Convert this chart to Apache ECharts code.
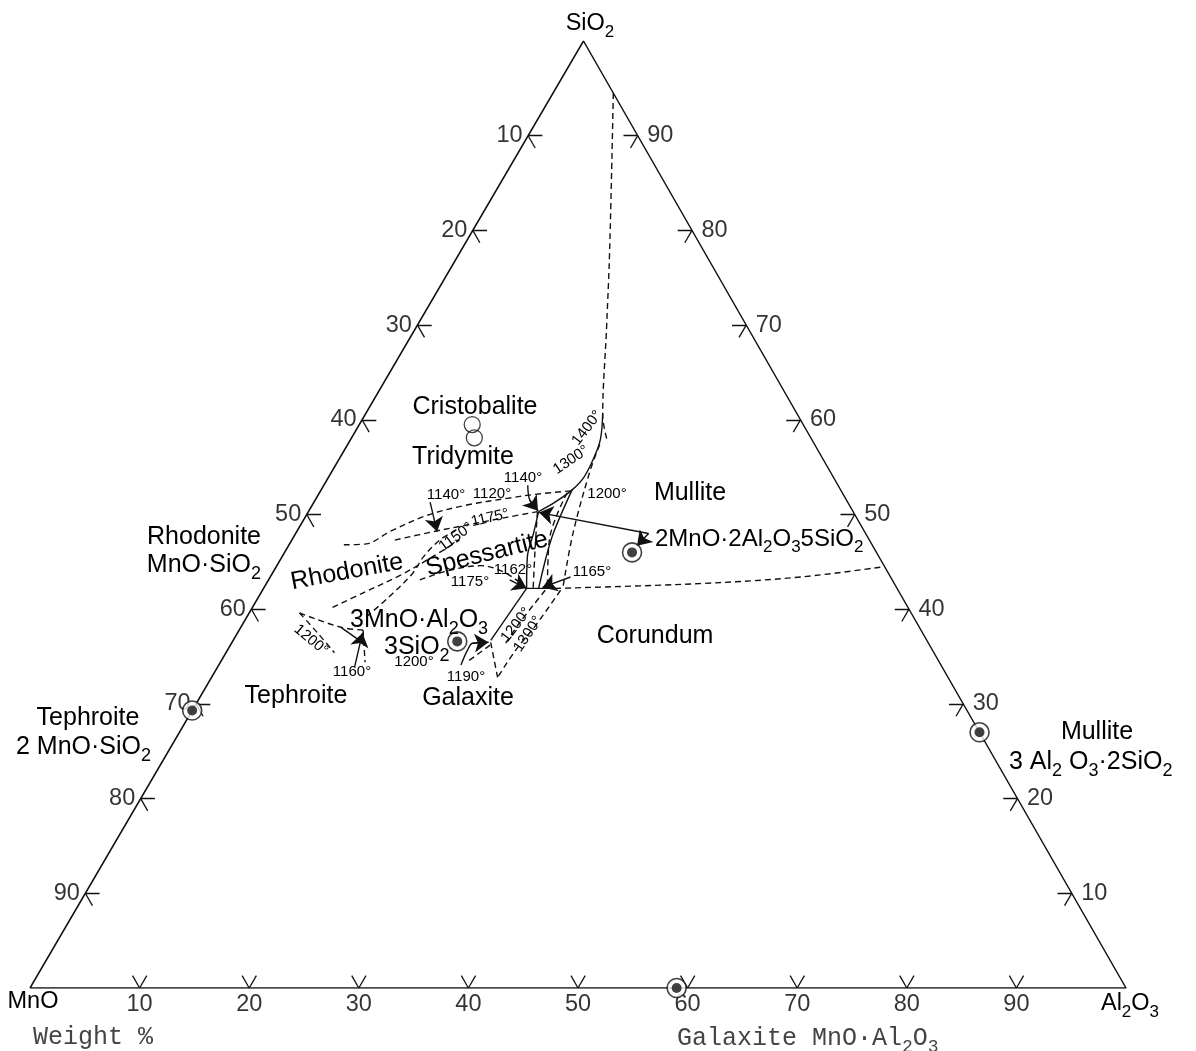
<!DOCTYPE html>
<html><head><meta charset="utf-8">
<script src="https://cdn.jsdelivr.net/npm/echarts@6/dist/echarts.min.js"></script>
<style>html,body{margin:0;padding:0;background:#fff}#c{width:1196px;height:1051px}</style>
</head><body><div id="c"></div>
<script>
// All compositions in weight %, written as [SiO2, Al2O3]; MnO = 100 - SiO2 - Al2O3
const outline = [[0,0],[100,0],[0,100],[0,0]];
const tickValues = [10,20,30,40,50,60,70,80,90];
const tickLabels = ['10','20','30','40','50','60','70','80','90'];

// compounds (bull's-eye markers)
const compounds = [[29.3,0],[0,59],[27,73],[36.6,20.5],[46.0,31.7]];
// cristobalite / tridymite open circles
const silicaCircles = [[59.5,10.3],[58.1,11.2]];

// solid boundary curves
const silicaLiquidus = [[60.7,21.6],[57.9,22.8],[55.8,23.2],[53.9,23.3],[52.6,22.9],[51.3,22.0],[50.3,21.0]];
const spessLeftSolid = [[50.3,21.0],[48.0,21.7],[45.5,22.4],[42.2,24.0]];
const spessRightSolid = [[52.6,22.9],[48.0,23.5],[45.2,24.2],[42.2,25.1]];
const eutecticTie = [[42.2,24.0],[42.2,26.6]];
const galaxiteSolid = [[42.2,24.0],[36.7,23.5]];
const tephroiteSolid = [[38.1,9.1],[36.9,11.2]];

// dashed boundary / isotherm curves
const silicaMullite = [[94.5,5.5],[78,13.5],[69.5,17.5],[60.5,21.7],[57.9,23.4]];
const corundumBoundary = [[42.2,26.6],[42.7,39.5],[43.4,48.4],[44.5,55.5]];
const iso1120 = [[46.8,5.0],[46.9,7.0],[48.2,8.5],[49.9,11.0],[51.0,14.1],[51.7,17.4],[52.1,19.6],[52.5,22.8]];
const iso1150 = [[47.3,9.4],[48.2,12.5],[48.9,15.2],[49.7,18.4],[50.3,20.9]];
const rhodSpessA = [[40.2,7.3],[41.7,9.3],[43.6,11.8],[45.4,13.6],[47.3,15.3]];
const rhodSpessB = [[39.2,10.9],[41.3,11.9],[43.8,12.8],[45.5,12.9],[47.3,13.5],[48.6,14.7]];
const iso1175 = [[43.1,13.8],[44.1,16.0],[44.6,18.6],[43.9,21.1],[42.6,23.4]];
const spessDashA = [[50.3,20.9],[46.3,22.7],[42.2,24.6]];
const spessDashB = [[52.3,22.6],[47.3,23.5],[42.2,25.9]];
const iso1200 = [[57.4,23.0],[54.7,23.5],[48.0,25.3],[42.2,27.3]];
const galaxIsoA = [[42.0,25.8],[38.6,25.2],[36.2,25.0]];
const galaxIsoB = [[42.0,27.2],[38.3,26.8],[35.7,26.3],[32.8,26.1]];
const galaxDashC = [[36.5,23.6],[32.8,26.1]];
const galaxDashD = [[34.6,22.6],[36.2,23.7]];
const tephDashA = [[39.6,4.6],[38.1,9.1],[37.8,11.3]];
const tephDashB = [[39.6,4.6],[37.5,7.3],[35.4,9.9]];
const tephDashC = [[37.8,11.3],[34.4,13.2]];

// arrows (last point = head)
const arrowMullite = [[48.0,32.2],[50.2,21.1]];
const arrowMullite2 = [[48.0,32.2],[46.7,31.8]];
const arrow1140a = [[53.1,18.6],[51.5,19.6],[50.4,20.9]];
const arrow1140b = [[51.3,10.6],[48.2,12.8]];
const arrow1162 = [[43.1,22.0],[42.2,24.0]];
const arrow1165 = [[43.4,27.4],[42.3,25.4]];
const arrow1160 = [[33.9,12.5],[37.5,11.4]];
const arrowSpess = [[34.1,22.1],[35.7,21.9],[36.4,22.0],[36.5,23.4]];

const APEX = 0.505;
const INK = '#111';
const TXT = '#000';
const FONT = '"Liberation Sans", Arial, Helvetica, sans-serif';
const MONO = '"Liberation Mono", "Courier New", monospace';
function P(c){ return [c[1] + APEX*c[0], c[0]]; }

function curve(pts, dashed, smooth){
  return {type:'line', data: pts.map(P), symbol:'none', smooth: smooth ? 0.35 : false, silent:true,
    lineStyle:{color:INK, width:1.4, type: dashed ? [6,4] : 'solid'}, z:3};
}
function arrow(pts, smooth){
  const s = [];
  if (pts.length > 2) s.push(curve(pts, false, smooth));
  const a = pts[pts.length-2], b = pts[pts.length-1];
  s.push({type:'lines', coordinateSystem:'cartesian2d', silent:true, z:4,
    data:[{coords:[P(a),P(b)]}], symbol:['none','arrow'], symbolSize:[10,14],
    lineStyle:{color:INK, width:1.4, opacity:1}, itemStyle:{color:INK}});
  return s;
}

// tick marks
const t = 1.3;
const tickSegs = [];
tickValues.forEach(v => {
  tickSegs.push({coords:[P([0,v]),P([t,v])]});
  tickSegs.push({coords:[P([0,v]),P([t,v-t])]});
  tickSegs.push({coords:[P([100-v,0]),P([100-v,t])]});
  tickSegs.push({coords:[P([100-v,0]),P([100-v-t,t])]});
  tickSegs.push({coords:[P([v,100-v]),P([v,100-v-t])]});
  tickSegs.push({coords:[P([v,100-v]),P([v-t,100-v])]});
});

function tickLabelSeries(pos, dist, mapper){
  return {type:'scatter', symbolSize:1, itemStyle:{color:'rgba(0,0,0,0)'}, silent:true,
    data: tickValues.map((v,i) => P(mapper(v)).concat([tickLabels[i]])),
    label:{show:true, position:pos, distance:dist, formatter:p=>p.data[2], fontSize:23.5, color:TXT, fontFamily:FONT}};
}

const series = [
  {type:'line', data: outline.map(P), symbol:'none', silent:true, lineStyle:{color:INK,width:1.5}, z:2},
  {type:'lines', coordinateSystem:'cartesian2d', silent:true, data: tickSegs, symbol:'none', lineStyle:{color:INK,width:1.3,opacity:1}},
  tickLabelSeries('bottom', 4, v=>[0,v]),
  tickLabelSeries('left', 5, v=>[100-v,0]),
  tickLabelSeries('right', 9, v=>[v,100-v]),
  curve(silicaLiquidus,false,true), curve(spessLeftSolid,false,true), curve(spessRightSolid,false,true),
  curve(eutecticTie,false,false), curve(galaxiteSolid,false,false), curve(tephroiteSolid,false,false),
  curve(silicaMullite,true,true), curve(corundumBoundary,true,true), curve(iso1120,true,true), curve(iso1150,true,true),
  curve(rhodSpessA,true,true), curve(rhodSpessB,true,true), curve(iso1175,true,true), curve(spessDashA,true,true),
  curve(spessDashB,true,true), curve(iso1200,true,true), curve(galaxIsoA,true,true), curve(galaxIsoB,true,true),
  curve(galaxDashC,true,false), curve(galaxDashD,true,false), curve(tephDashA,true,true), curve(tephDashB,true,true),
  curve(tephDashC,true,false),
  ...arrow(arrowMullite), ...arrow(arrowMullite2), ...arrow(arrow1140a,true), ...arrow(arrow1140b),
  ...arrow(arrow1162), ...arrow(arrow1165), ...arrow(arrow1160), ...arrow(arrowSpess,true),
  {type:'scatter', data: compounds.map(P), symbol:'circle', symbolSize:19, silent:true, z:5,
    itemStyle:{color:'#fff', borderColor:INK, borderWidth:1.6}},
  {type:'scatter', data: compounds.map(P), symbol:'circle', symbolSize:10, silent:true, z:6, itemStyle:{color:INK}},
  {type:'scatter', data: silicaCircles.map(P), symbol:'circle', symbolSize:16, silent:true, z:5,
    itemStyle:{color:'rgba(255,255,255,0)', borderColor:INK, borderWidth:1.3}}
];

function richify(s){ return s.replace(/_(\d)/g, '{s|$1}'); }
function T(x, y, text, size, align, rot, family, color){
  const fs = size;
  return {type:'text', x:x, y:y, rotation:(rot||0)*Math.PI/180, silent:true, z:10,
    style:{text: richify(text), fontSize:fs, fontFamily: family||FONT, fill: color||TXT,
      textAlign: align||'center', textVerticalAlign:'middle',
      rich:{s:{fontSize:Math.round(fs*0.72), fontFamily: family||FONT, fill: color||TXT, padding:[Math.round(fs*0.7),0,0,0]}}}};
}

const L = 25;
const graphic = [
  T(590, 24, 'SiO_2', 23.5),
  T(33, 1002, 'MnO', 23.5),
  T(1130, 1004, 'Al_2O_3', 23.5),
  T(33, 1037, 'Weight %', 25, 'left', 0, MONO, '#444'),
  T(677, 1038, 'Galaxite MnO·Al_2O_3', 25, 'left', 0, MONO, '#444'),
  T(261, 537, 'Rhodonite', L, 'right'),
  T(261, 565, 'MnO·SiO_2', L, 'right'),
  T(88, 718, 'Tephroite', L),
  T(16, 747, '2 MnO·SiO_2', L, 'left'),
  T(1097, 732, 'Mullite', L),
  T(1009, 762, '3 Al_2 O_3·2SiO_2', L, 'left'),
  T(475, 407, 'Cristobalite', L),
  T(463, 457, 'Tridymite', L),
  T(690, 493, 'Mullite', L),
  T(655, 539, '2MnO·2Al_2O_35SiO_2', 24, 'left'),
  T(347, 572, 'Rhodonite', L, 'center', 10.5),
  T(487, 554, 'Spessartite', L, 'center', 14),
  T(350, 620, '3MnO·Al_2O_3', L, 'left'),
  T(384, 647, '3SiO_2', L, 'left'),
  T(655, 636, 'Corundum', L),
  T(296, 696, 'Tephroite', L),
  T(468, 698, 'Galaxite', L),
  T(446, 495, '1140°', 15),
  T(492, 494, '1120°', 15),
  T(523, 478, '1140°', 15),
  T(607, 494, '1200°', 15),
  T(513, 570, '1162°', 15),
  T(470, 582, '1175°', 15),
  T(592, 572, '1165°', 15),
  T(352, 672, '1160°', 15),
  T(414, 662, '1200°', 15),
  T(466, 677, '1190°', 15),
  T(456, 537, '1150°', 15, 'center', 36),
  T(490, 518, '1175°', 15, 'center', 13),
  T(571, 460, '1300°', 15, 'center', 34),
  T(587, 428, '1400°', 15, 'center', 52),
  T(516, 625, '1200°', 15, 'center', 52),
  T(528, 634, '1300°', 15, 'center', 56),
  T(311, 640, '1200°', 15, 'center', -40)
];

const chart = echarts.init(document.getElementById('c'), null, {renderer:'canvas'});
chart.setOption({
  animation:false,
  backgroundColor:'#fff',
  grid:{left:30, top:41, width:1096, height:947, show:false},
  xAxis:{type:'value', min:0, max:100, show:false},
  yAxis:{type:'value', min:0, max:100, show:false},
  series: series,
  graphic: graphic
});
</script></body></html>
